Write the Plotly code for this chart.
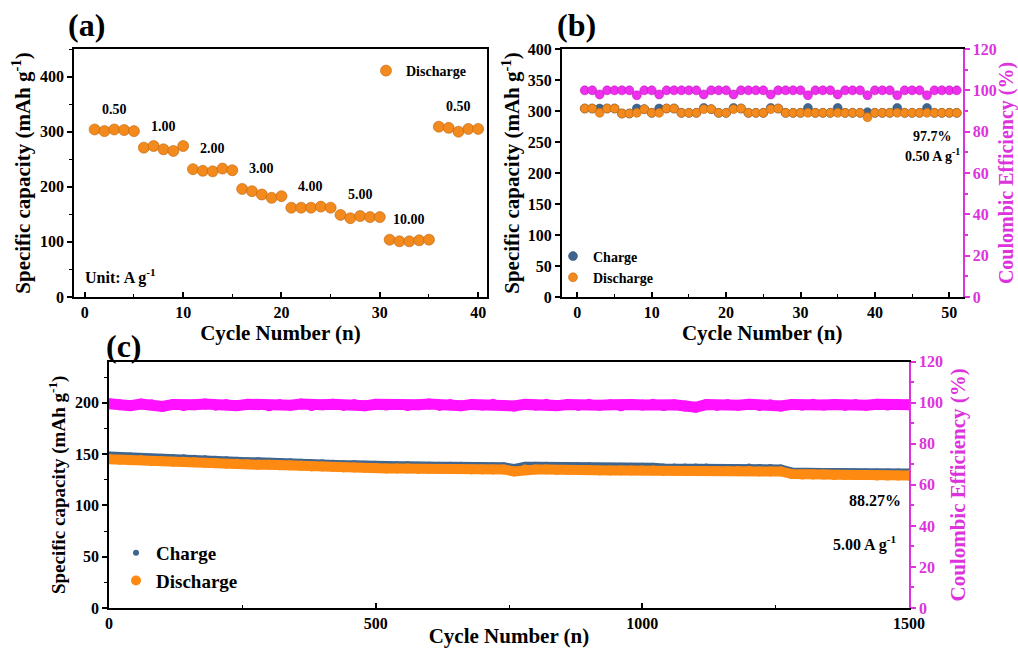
import plotly.graph_objects as go

# ---------------- data ----------------
# (a) rate performance
cycles_a = list(range(1, 41))
discharge_a = [304, 301, 304, 303, 301,
               271, 274, 268, 265, 274,
               232, 229, 228, 233, 230,
               196, 192, 186, 180, 183,
               162, 162, 162, 164, 162,
               149, 143, 147, 145, 145,
               104, 101, 101, 103, 104,
               309, 307, 300, 305, 305]
rate_labels_a = ["0.50", "1.00", "2.00", "3.00", "4.00", "5.00", "10.00", "0.50"]

# (b) cycling at 0.50 A g-1
cycles_b = list(range(1, 52))
discharge_b = [304, 304, 297, 304, 304, 296, 296, 297, 303, 297,
               297, 304, 304, 297, 297, 297, 303, 303, 297, 297,
               303, 304, 297, 297, 297, 303, 304, 297, 297, 297,
               297, 297, 297, 297, 297, 297, 297, 297, 290, 297,
               297, 297, 297, 297, 297, 297, 297, 297, 297, 297, 297]
charge_b = [304, 304, 304, 304, 304, 296, 296, 304, 303, 297,
            304, 304, 304, 297, 297, 297, 305, 303, 297, 297,
            305, 304, 297, 297, 297, 305, 304, 297, 297, 297,
            305, 297, 297, 297, 305, 297, 297, 297, 298, 297,
            297, 297, 305, 297, 297, 297, 305, 297, 297, 297, 297]
ce_b = [100, 100, 98, 100, 100, 100, 100, 97.6, 100, 100,
        98, 100, 100, 100, 100, 100, 98, 100, 100, 100,
        98, 100, 100, 100, 100, 98, 100, 100, 100, 100,
        97.6, 100, 100, 100, 98, 100, 100, 100, 97.6, 100,
        100, 100, 97.6, 100, 100, 100, 97.6, 100, 100, 100, 100]

# (c) long cycling at 5.00 A g-1 (read every 20 cycles)
cycles_c = [1, 20, 40, 60, 80, 100, 120, 140, 160, 180, 200, 220, 240, 260, 280,
            300, 320, 340, 360, 380, 400, 420, 440, 460, 480, 500, 520, 540, 560,
            580, 600, 620, 640, 660, 680, 700, 720, 740, 760, 780, 800, 820, 840,
            860, 880, 900, 920, 940, 960, 980, 1000, 1020, 1040, 1060, 1080, 1100,
            1120, 1140, 1160, 1180, 1200, 1220, 1240, 1260, 1280, 1300, 1320, 1340,
            1360, 1380, 1400, 1420, 1440, 1460, 1480, 1500]
charge_c = [149.5, 149, 148.5, 148, 147.5, 147.5, 147, 147, 146.5, 146, 145.5, 145,
            144.5, 144, 144, 143.5, 143, 143, 142.5, 142, 142, 141.5, 141, 141, 140.5,
            140.5, 140, 140, 140, 139.5, 139.5, 139.5, 139.5, 139.5, 139, 139, 139, 139,
            137.5, 139.5, 139.5, 139.5, 139, 139, 139, 139, 138.5, 138.5, 138.5, 138.5,
            138.5, 138.5, 138, 138, 138, 138, 138, 137.5, 137.5, 137.5, 138, 137.5,
            137.5, 137, 134, 133.5, 133.5, 133.5, 133.5, 133.5, 133, 133, 133, 133, 133, 133]
discharge_c = [145, 144.5, 144, 144, 143, 143, 142.5, 142.5, 142, 141.5, 141, 140.5,
               140.5, 140, 139.5, 139.5, 139, 139, 138.5, 138, 138, 137.5, 137, 137, 136.5,
               136.5, 136, 136, 136, 135.5, 135.5, 135.5, 135.5, 135.5, 135, 135, 135, 135,
               133, 135, 135, 135, 134.5, 134.5, 134.5, 134.5, 134, 134, 134, 134,
               134, 134, 133.5, 133.5, 133.5, 133.5, 133.5, 133.5, 133.5, 133.5, 133.5, 133,
               133, 133, 130.5, 130, 130, 130, 129.5, 129.5, 129.5, 129.5, 129, 129, 129, 129]
ce_c = [99.5, 99, 98.6, 99.4, 99, 98.2, 99.2, 98.6, 99, 99.4, 98.8, 99.2, 98.6, 99.3,
        99, 98.5, 99.2, 98.8, 99.4, 98.6, 99, 99.3, 98.7, 99.1, 98.5, 99.3, 98.9, 99.2,
        98.6, 99, 99.4, 98.7, 99.1, 98.5, 99.2, 98.8, 99.3, 98.6, 98.4, 99.2, 98.8, 99.3,
        98.6, 99.1, 98.7, 99.3, 98.8, 99, 98.5, 99.2, 98.9, 99.3, 98.6, 99, 98.4, 97.8,
        99.1, 98.7, 99.2, 98.8, 99.3, 98.6, 99, 98.4, 99.2, 98.8, 99.3, 98.9, 99.1, 98.7,
        99.2, 98.8, 99.3, 98.9, 99.1, 99]

# ---------------- styling ----------------
W, H = 1018, 648
FONT = "Liberation Serif"
ORANGE = "#F28A1E"
ORANGE_C = "#FF8A12"
BLUE = "#3F6690"
MAG = "#EE2FEE"
MAG_AX = "#DD33DD"


def px_x(p):
    return p / W


def px_y(p):
    return 1 - p / H


def tf(size=15, color="black"):
    return dict(family=FONT, size=size, color=color, weight="bold")


fig = go.Figure()

# ---- (a) ----
fig.add_trace(go.Scatter(
    x=cycles_a, y=discharge_a, mode="markers", name="Discharge",
    marker=dict(size=11, color=ORANGE, line=dict(width=0.6, color="#C0620A")),
    xaxis="x", yaxis="y", legend="legend"))

# rate labels: centred on each group of 5 cycles, just above the highest point
for i, lab in enumerate(rate_labels_a):
    grp_x = cycles_a[i * 5:(i + 1) * 5]
    grp_y = discharge_a[i * 5:(i + 1) * 5]
    fig.add_annotation(x=sum(grp_x) / len(grp_x), y=max(grp_y), yshift=20,
                       text=lab, showarrow=False, xref="x", yref="y",
                       font=tf(14))

# ---- (b) ----
fig.add_trace(go.Scatter(
    x=cycles_b, y=charge_b, mode="markers", name="Charge",
    marker=dict(size=9, color=BLUE, line=dict(width=0.5, color="#2A4868")),
    xaxis="x2", yaxis="y2", legend="legend2"))
fig.add_trace(go.Scatter(
    x=cycles_b, y=discharge_b, mode="markers", name="Discharge",
    marker=dict(size=9, color=ORANGE, line=dict(width=0.5, color="#C0620A")),
    xaxis="x2", yaxis="y2", legend="legend2"))
fig.add_trace(go.Scatter(
    x=cycles_b, y=ce_b, mode="markers", name="CE", showlegend=False,
    marker=dict(size=9, color=MAG, line=dict(width=0.5, color="#B010B0")),
    xaxis="x2", yaxis="y3"))

# ---- (c) ----
fig.add_trace(go.Scatter(
    x=cycles_c, y=charge_c, mode="lines", showlegend=False,
    line=dict(width=6, color=BLUE), xaxis="x3", yaxis="y4"))
fig.add_trace(go.Scatter(
    x=cycles_c, y=charge_c, mode="markers", name="Charge",
    marker=dict(size=6, color=BLUE), xaxis="x3", yaxis="y4", legend="legend3"))
fig.add_trace(go.Scatter(
    x=cycles_c, y=discharge_c, mode="lines", showlegend=False,
    line=dict(width=10, color=ORANGE_C), xaxis="x3", yaxis="y4"))
fig.add_trace(go.Scatter(
    x=cycles_c, y=discharge_c, mode="markers", name="Discharge",
    marker=dict(size=10, color=ORANGE_C), xaxis="x3", yaxis="y4", legend="legend3"))
fig.add_trace(go.Scatter(
    x=cycles_c, y=ce_c, mode="lines+markers", showlegend=False,
    line=dict(width=11, color="#FF10FF"), marker=dict(size=11, color="#FF10FF"),
    xaxis="x3", yaxis="y5"))

common_x = dict(showline=True, linecolor="black", linewidth=1.6, mirror=True,
                ticks="inside", ticklen=5, tickwidth=1.5, tickcolor="black",
                showgrid=False, zeroline=False, tickfont=tf(16), automargin=False)
common_y = dict(showline=True, linecolor="black", linewidth=1.6,
                ticks="outside", ticklen=5, tickwidth=1.5, tickcolor="black",
                showgrid=False, zeroline=False, tickfont=tf(16), automargin=False)
minor_in = dict(ticks="inside", ticklen=3, tickcolor="black", tickwidth=1.2)
minor_out = dict(ticks="outside", ticklen=3, tickcolor="black", tickwidth=1.2)

fig.update_layout(
    width=W, height=H, margin=dict(l=0, r=0, t=0, b=0, autoexpand=False),
    paper_bgcolor="white", plot_bgcolor="white", showlegend=True,
    xaxis=dict(**common_x, domain=[px_x(74), px_x(487)], range=[-1.1, 40.9],
               dtick=10, anchor="y", minor=dict(dtick=5, **minor_in),
               title=dict(text="Cycle Number (n)", font=tf(21), standoff=0)),
    yaxis=dict(**common_y, domain=[px_y(297), px_y(49)], range=[0, 450],
               dtick=100, anchor="x", mirror=True, minor=dict(dtick=50, **minor_out),
               title=dict(text="Specific capacity (mAh g<sup>-1</sup>)", font=tf(21),
                          standoff=4)),
    xaxis2=dict(**common_x, domain=[px_x(561.7), px_x(962.7)], range=[-2.1, 51.8],
                dtick=10, anchor="y2", minor=dict(dtick=5, **minor_in),
                title=dict(text="Cycle Number (n)", font=tf(21), standoff=0)),
    yaxis2=dict(**common_y, domain=[px_y(297), px_y(49)], range=[0, 400],
                dtick=50, anchor="x2",
                title=dict(text="Specific capacity (mAh g<sup>-1</sup>)", font=tf(21),
                           standoff=2)),
    yaxis3=dict(showline=True, linecolor=MAG_AX, linewidth=1.6, side="right",
                overlaying="y2", anchor="x2", range=[0, 120], dtick=20,
                ticks="outside", ticklen=5, tickwidth=1.5, tickcolor=MAG_AX,
                minor=dict(dtick=10, ticks="outside", ticklen=3, tickcolor=MAG_AX),
                showgrid=False, zeroline=False, tickfont=tf(16, MAG_AX), automargin=False,
                title=dict(text="Coulombic Efficiency (%)", font=tf(20, MAG_AX),
                           standoff=3)),
    xaxis3=dict(**common_x, domain=[px_x(109), px_x(909)], range=[0, 1500],
                dtick=500, anchor="y4", minor=dict(dtick=250, **minor_in),
                title=dict(text="Cycle Number (n)", font=tf(21), standoff=0)),
    yaxis4=dict(**common_y, domain=[px_y(608), px_y(361.7)], range=[0, 240],
                dtick=50, anchor="x3", minor=dict(dtick=25, **minor_out),
                title=dict(text="Specific capacity (mAh g<sup>-1</sup>)", font=tf(19),
                           standoff=4)),
    yaxis5=dict(showline=True, linecolor=MAG_AX, linewidth=1.6, side="right",
                overlaying="y4", anchor="x3", range=[0, 120], dtick=20,
                ticks="outside", ticklen=5, tickwidth=1.5, tickcolor=MAG_AX,
                minor=dict(dtick=10, ticks="outside", ticklen=3, tickcolor=MAG_AX),
                showgrid=False, zeroline=False, tickfont=tf(16, MAG_AX), automargin=False,
                title=dict(text="Coulombic Efficiency (%)", font=tf(21, MAG_AX),
                           standoff=8)),
    legend=dict(x=px_x(366), y=px_y(71), xanchor="left", yanchor="middle",
                bgcolor="rgba(0,0,0,0)", font=tf(14), itemsizing="trace"),
    legend2=dict(x=px_x(553), y=px_y(267), xanchor="left", yanchor="middle",
                 bgcolor="rgba(0,0,0,0)", font=tf(14), tracegroupgap=0,
                 itemwidth=30),
    legend3=dict(x=px_x(116), y=px_y(567), xanchor="left", yanchor="middle",
                 bgcolor="rgba(0,0,0,0)", font=tf(19), tracegroupgap=0),
)

# panel letters and notes
notes = [
    dict(x=px_x(86), y=px_y(25), text="(a)", size=32, xa="center"),
    dict(x=px_x(576), y=px_y(25), text="(b)", size=32, xa="center"),
    dict(x=px_x(124), y=px_y(346), text="(c)", size=32, xa="center"),
    dict(x=px_x(83), y=px_y(276), text="Unit: A g<sup>-1</sup>", size=16, xa="left"),
    dict(x=px_x(954), y=px_y(137), text="97.7%", size=14, xa="right"),
    dict(x=px_x(962), y=px_y(155), text="0.50 A g<sup>-1</sup>", size=14, xa="right"),
    dict(x=px_x(903), y=px_y(500), text="88.27%", size=16, xa="right"),
    dict(x=px_x(899), y=px_y(543), text="5.00 A g<sup>-1</sup>", size=16, xa="right"),
]
for n in notes:
    fig.add_annotation(x=n["x"], y=n["y"], xref="paper", yref="paper",
                       text=n["text"], showarrow=False, xanchor=n["xa"],
                       yanchor="middle", font=tf(n["size"]))

fig.write_html("out.html",
               config={"displayModeBar": False},
               post_script="document.body.style.margin='0';"
                           "document.body.style.overflow='hidden';")
